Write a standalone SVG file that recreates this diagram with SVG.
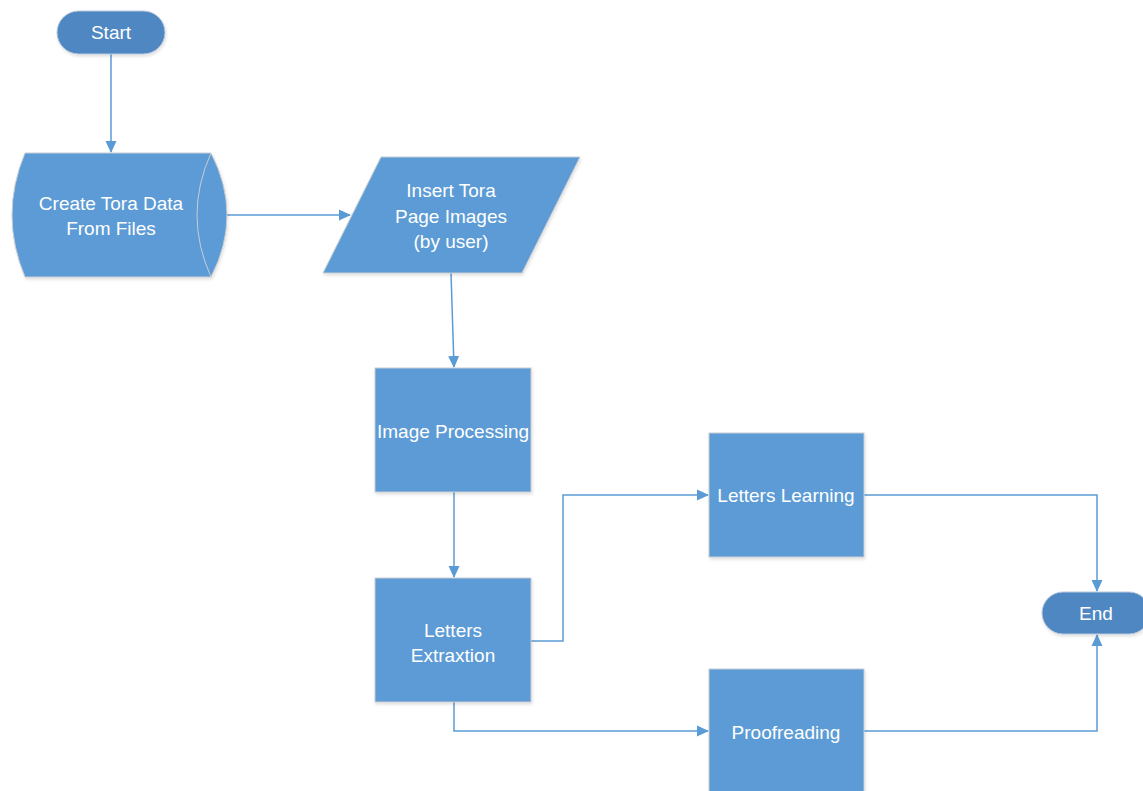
<svg xmlns="http://www.w3.org/2000/svg" width="1143" height="791" viewBox="0 0 1143 791">
<style>
.shape{fill:#5b9bd5;stroke:#c9cdd2;stroke-width:1;filter:url(#sh)}
.term{fill:#4f87c2;stroke:#b9c9dc;stroke-width:1;filter:url(#sh)}
.lbl{font-family:"Liberation Sans",Arial,sans-serif;font-size:19px;fill:#ffffff;text-anchor:middle;dominant-baseline:central}
.conn{fill:none;stroke:#5b9bd5;stroke-width:1.5}
</style>
<defs>
<filter id="sh" x="-10%" y="-10%" width="125%" height="125%">
<feDropShadow dx="1" dy="2" stdDeviation="1.5" flood-color="#000" flood-opacity="0.12"/>
</filter>
<marker id="arr" markerWidth="12" markerHeight="12" refX="11" refY="6" orient="auto" markerUnits="userSpaceOnUse">
<path d="M0,0.5 L12,6 L0,11.5 Z" fill="#5b9bd5"/>
</marker>
</defs>
<rect width="1143" height="791" fill="#ffffff"/>
<g id="connectors">
<path class="conn" d="M111,54 L111,152" marker-end="url(#arr)"/>
<path class="conn" d="M227,215 L350,215" marker-end="url(#arr)"/>
<path class="conn" d="M451,273 L454,367" marker-end="url(#arr)"/>
<path class="conn" d="M454,492 L454,577" marker-end="url(#arr)"/>
<path class="conn" d="M531,641 L563,641 L563,495 L708,495" marker-end="url(#arr)"/>
<path class="conn" d="M454,702 L454,731 L708,731" marker-end="url(#arr)"/>
<path class="conn" d="M864,495 L1097,495 L1097,591" marker-end="url(#arr)"/>
<path class="conn" d="M864,731 L1097,731 L1097,635" marker-end="url(#arr)"/>
</g>
<g id="start">
<rect class="term" x="57" y="11" width="108" height="43" rx="21.5"/>
<text class="lbl" x="111" y="32.5">Start</text>
</g>
<g id="create">
<path class="shape" d="M25,153 L211,153 Q243,215 211,277 L25,277 Q-1,215 25,153 Z"/>
<path d="M211,153 Q183,215 211,277" fill="none" stroke="#c9cdd2" stroke-width="1"/>
<text class="lbl" x="111" y="203">Create Tora Data</text>
<text class="lbl" x="111" y="228">From Files</text>
</g>
<g id="insert">
<path class="shape" d="M381,157 L580,157 L522,273 L323,273 Z"/>
<text class="lbl" x="451" y="190">Insert Tora</text>
<text class="lbl" x="451" y="216">Page Images</text>
<text class="lbl" x="451" y="241">(by user)</text>
</g>
<g id="imageProcessing">
<rect class="shape" x="375" y="368" width="156" height="124"/>
<text class="lbl" x="453" y="431">Image Processing</text>
</g>
<g id="extraction">
<rect class="shape" x="375" y="578" width="156" height="124"/>
<text class="lbl" x="453" y="630">Letters</text>
<text class="lbl" x="453" y="655">Extraxtion</text>
</g>
<g id="learning">
<rect class="shape" x="709" y="433" width="155" height="124"/>
<text class="lbl" x="786" y="495">Letters Learning</text>
</g>
<g id="proofreading">
<rect class="shape" x="709" y="669" width="155" height="130"/>
<text class="lbl" x="786" y="732">Proofreading</text>
</g>
<g id="end">
<rect class="term" x="1042" y="592" width="108" height="42" rx="21"/>
<text class="lbl" x="1096" y="613">End</text>
</g>
</svg>
